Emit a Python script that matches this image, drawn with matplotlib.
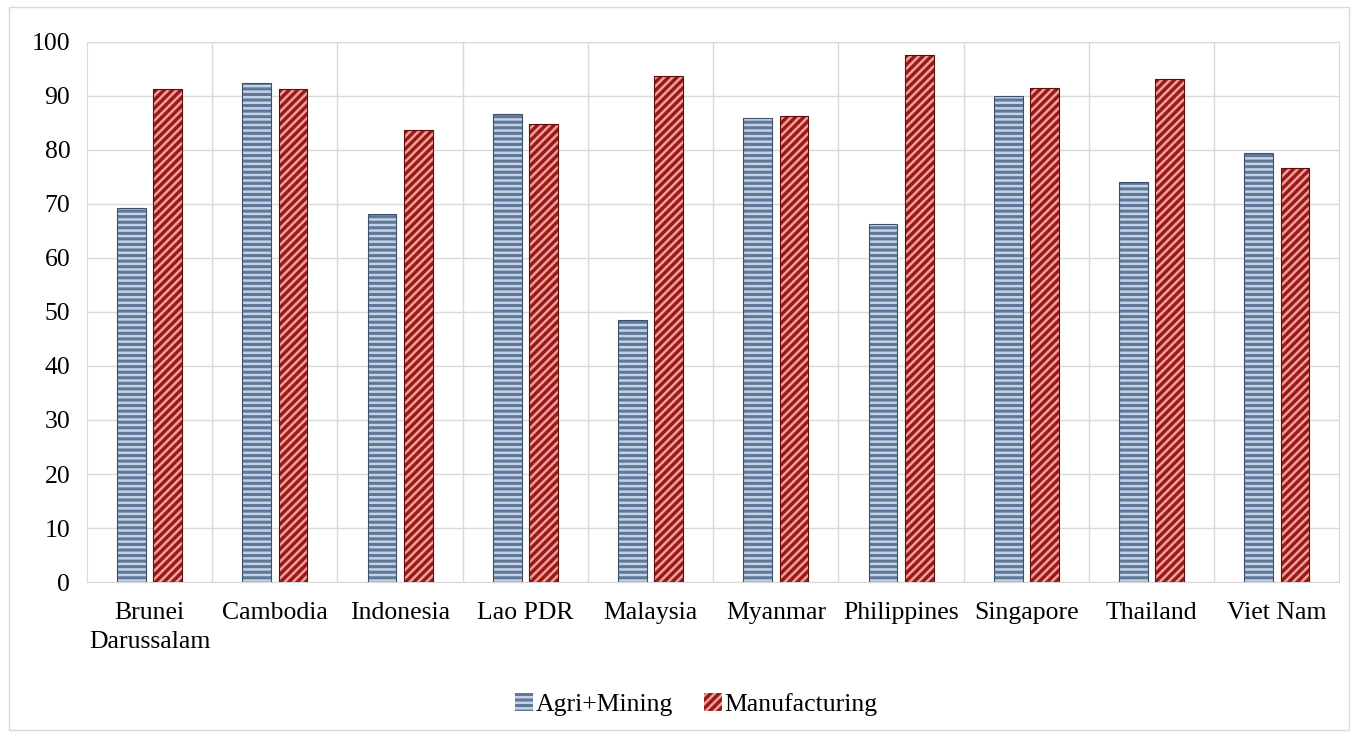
import numpy as np
import matplotlib.pyplot as plt
from matplotlib.patches import Rectangle

# data
countries = ["Brunei\nDarussalam", "Cambodia", "Indonesia", "Lao PDR",
             "Malaysia", "Myanmar", "Philippines", "Singapore", "Thailand",
             "Viet Nam"]
agri_mining = [69.2, 92.4, 68.1, 86.7, 48.5, 85.9, 66.3, 90.0, 74.1, 79.4]
manufacturing = [91.3, 91.3, 83.7, 84.8, 93.7, 86.3, 97.6, 91.5, 93.1, 76.7]

plt.rcParams['font.family'] = ['Liberation Serif', 'DejaVu Serif']
plt.rcParams['hatch.linewidth'] = 1.8

fig = plt.figure(figsize=(13.53, 7.34), dpi=100)
ax = fig.add_axes([0.0643, 0.207, 0.9257, 0.736])

x = np.arange(len(countries))
width = 0.23
fs = 18.5

# bars: filled with hatch, then an outline on top
ax.bar(x - 0.145, agri_mining, width, color="#5f7798",
       edgecolor="#c4d2e4", hatch="---", linewidth=0,
       label="Agri+Mining", zorder=3)
ax.bar(x - 0.145, agri_mining, width, fill=False, edgecolor="#3e4f68",
       linewidth=0.8, zorder=4)
ax.bar(x + 0.145, manufacturing, width, color="#9c1818",
       edgecolor="#eba29a", hatch="////", linewidth=0,
       label="Manufacturing", zorder=3)
ax.bar(x + 0.145, manufacturing, width, fill=False, edgecolor="#5e0e0e",
       linewidth=0.8, zorder=4)

ax.set_xlim(-0.5, len(countries) - 0.5)
ax.set_ylim(0, 100)
ax.set_yticks(np.arange(0, 101, 10))
ax.set_xticks(x, countries, fontsize=fs, va="top", linespacing=1.45)
ax.tick_params(axis="y", labelsize=fs, length=0, pad=12)
ax.tick_params(axis="x", length=0, pad=14)

ax.grid(axis="y", color="#d9d9d9", linewidth=1, zorder=0)
for b in np.arange(0.5, len(countries) - 0.5):
    ax.axvline(b, color="#d9d9d9", linewidth=1, zorder=0)
for s in ax.spines.values():
    s.set_color("#d9d9d9")

ax.legend(loc="upper center", bbox_to_anchor=(0.4865, -0.163), ncol=2,
          frameon=False, fontsize=fs, handlelength=0.7, handleheight=0.7,
          handletextpad=0.1, columnspacing=1.2)

# light frame around the whole picture
fig.patches.append(Rectangle((0.007, 0.005), 0.99, 0.985,
                             transform=fig.transFigure, fill=False,
                             edgecolor="#d9d9d9", linewidth=1))

plt.savefig("out.png", dpi=100)
